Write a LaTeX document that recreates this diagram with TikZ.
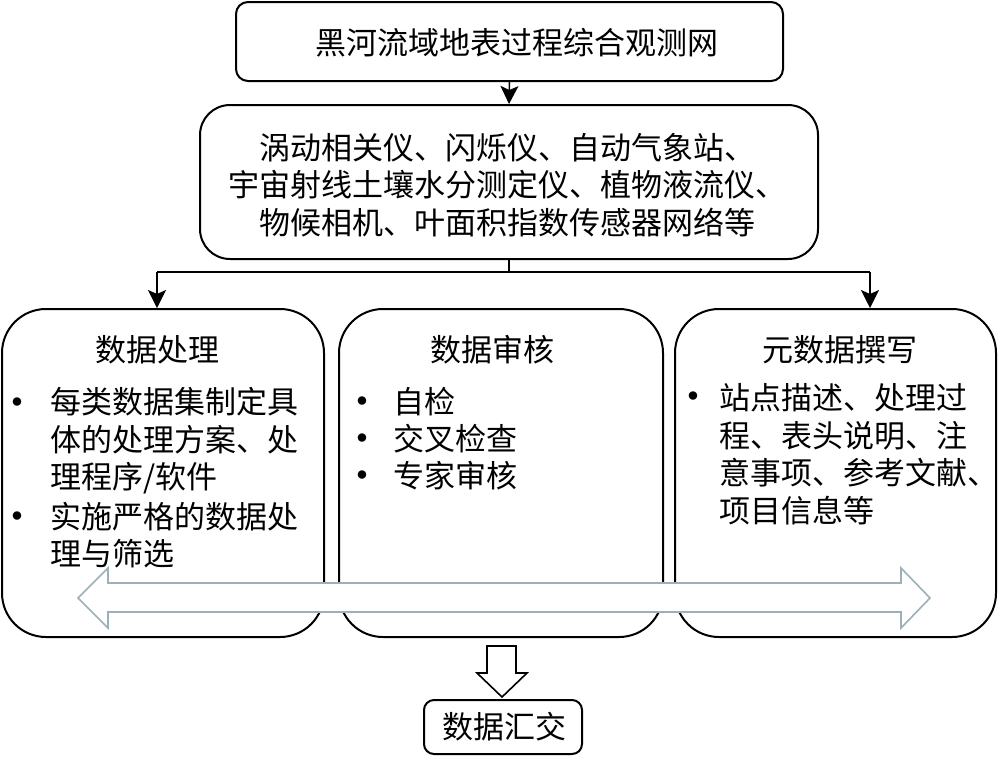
\documentclass[tikz,border=0pt]{standalone}
\usepackage{fontspec}
\newfontfamily\cjk{Noto Sans CJK SC}
\usetikzlibrary{arrows.meta}
\definecolor{arrowgray}{HTML}{9BB0B8}
\tikzset{
  box/.style={draw=black, line width=1pt, fill=white, inner sep=0pt},
  txt/.style={font=\cjk\fontsize{15.5pt}{18.75pt}\selectfont, inner sep=0pt, text=black},
  bul/.style={font=\fontsize{11pt}{13pt}\selectfont, inner sep=0pt},
  arr/.style={line width=0.75pt, -{Stealth[length=9pt,width=9pt,inset=2pt]}},
  conn/.style={line width=0.75pt},
}
\begin{document}
\begin{tikzpicture}[x=0.5pt,y=-0.5pt]
\useasboundingbox[fill=white] (0,0) rectangle (1000,756);
% boxes
\node[box, rounded corners=6pt, minimum width=273.5pt, minimum height=39.5pt] (top) at (509.5,41.5) {};
\node[box, rounded corners=15pt, minimum width=309pt, minimum height=77pt] (inst) at (509,182) {};
\node[box, rounded corners=22pt, minimum width=161pt, minimum height=164pt] (lbox) at (163,473) {};
\node[box, rounded corners=22pt, minimum width=162pt, minimum height=164pt] (mbox) at (501,473) {};
\node[box, rounded corners=22pt, minimum width=160.5pt, minimum height=164pt] (rbox) at (835.5,473) {};
\node[box, rounded corners=5pt, minimum width=79pt, minimum height=27pt] (final) at (503,727) {};
% texts
\node[txt] (ttop) at (517,43) {黑河流域地表过程综合观测网};
\node[txt, align=center] (tinst) at (507,185) {涡动相关仪、闪烁仪、自动气象站、\\宇宙射线土壤水分测定仪、植物液流仪、\\物候相机、叶面积指数传感器网络等};
\node[txt] (hl) at (157,350) {数据处理};
\node[txt] (hm) at (492,350) {数据审核};
\node[txt] (hr) at (840,350) {元数据撰写};
\node[bul] (bl1) at (17,403) {$\bullet$};
\node[bul] (bl2) at (17,517) {$\bullet$};
\node[txt, anchor=west, align=left] (tl1) at (50,441) {每类数据集制定具\\体的处理方案、处\\理程序/软件};
\node[txt, anchor=west, align=left] (tl2) at (50,535) {实施严格的数据处\\理与筛选};
\node[bul] (bm1) at (362,402) {$\bullet$};
\node[bul] (bm2) at (362,439) {$\bullet$};
\node[bul] (bm3) at (362,476) {$\bullet$};
\node[txt, anchor=west] (tm1) at (393,402) {自检};
\node[txt, anchor=west] (tm2) at (393,439) {交叉检查};
\node[txt, anchor=west] (tm3) at (393,476) {专家审核};
\node[bul] (br1) at (693,397) {$\bullet$};
\node[txt, anchor=west, align=left] (tr1) at (719,454) {站点描述、处理过\\程、表头说明、注\\意事项、参考文献、\\项目信息等};
\node[txt] (tfinal) at (504,727) {数据汇交};
% connectors
\draw[arr] (top.south) -- (inst.north);
\coordinate (jl) at (157,272);
\coordinate (jr) at (870,272);
\draw[conn] (inst.south) -- (inst.south |- jl);
\draw[conn] (jl) -- (jr);
\draw[arr] (jl) -- (jl |- lbox.north);
\draw[arr] (jr) -- (jr |- rbox.north);
% double hollow arrow
\draw[arrowgray, line width=0.8pt, fill=white] (78,598) -- (108,568) -- (108,583) -- (901,583) -- (901,568) -- (930,598) -- (901,628) -- (901,612) -- (108,612) -- (108,628) -- cycle;
% hollow down arrow
\draw[black, line width=0.8pt, fill=white] (487,646) -- (516,646) -- (516,673) -- (527,673) -- (502,697) -- (477,673) -- (487,673) -- cycle;
\end{tikzpicture}
\end{document}
